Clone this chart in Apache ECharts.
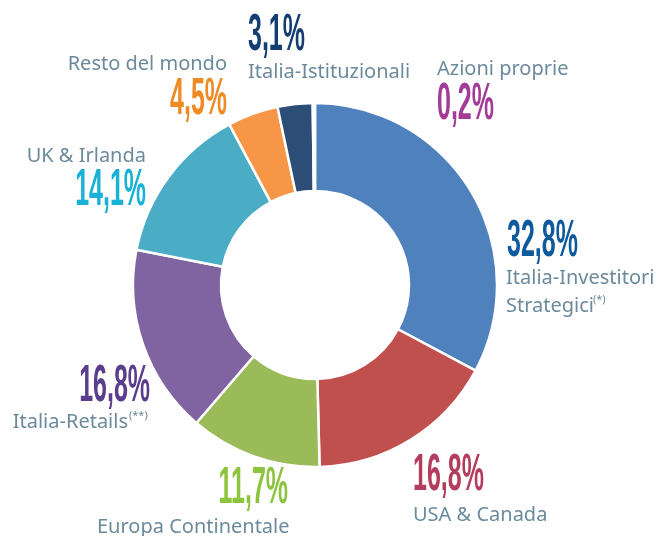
<!DOCTYPE html>
<html>
<head>
<meta charset="utf-8">
<script src="https://cdn.jsdelivr.net/npm/echarts@6/dist/echarts.min.js"></script>
<style>
  html, body { margin: 0; padding: 0; background: #fff; }
  #chart { width: 661px; height: 536px; }
</style>
</head>
<body>
<div id="chart"></div>
<script>
// slices, clockwise from 12 o'clock
const names = ['Italia-Investitori Strategici', 'USA & Canada', 'Europa Continentale', 'Italia-Retails',
  'UK & Irlanda', 'Resto del mondo', 'Italia-Istituzionali', 'Azioni proprie']
const nameLines = [['Italia-Investitori', 'Strategici'], ['USA & Canada'], ['Europa Continentale'], ['Italia-Retails'],
  ['UK & Irlanda'], ['Resto del mondo'], ['Italia-Istituzionali'], ['Azioni proprie']]
const notes = ['(*)', '', '', '(**)', '', '', '', '']
const values = [32.8, 16.8, 11.7, 16.8, 14.1, 4.5, 3.1, 0.2]

const sliceColors = ['#4f81bd', '#c0504d', '#9bbb59', '#8064a2', '#4bacc6', '#f79646', '#2c4d75', '#a0449c']
const pctColors = ['#0f5a9c', '#b43c5e', '#8cc43e', '#5a3d8c', '#19b2d6', '#f08a24', '#143e73', '#a33b97']

// label layout: percent anchor x, percent centre y, align, name anchor x, first name line y
const pctPos = [[507, 242, 'left'], [413, 476, 'left'], [288, 489, 'right'], [150, 387, 'right'],
  [146, 191, 'right'], [227, 100, 'right'], [248, 36, 'left'], [437, 105, 'left']]
const namePos = [[506, 278], [413, 515], [97, 527], [128, 422], [146, 156], [227, 64], [248, 72], [437, 69]]
const notePos = [[593, 300], null, null, [129, 416]]

const nameFont = '20px "Noto Sans", sans-serif'
const nameColor = '#6b8a9b'
const pctFont = 'bold 51px "Liberation Sans", Arial, sans-serif'

const fmt = v => v.toFixed(1).replace('.', ',') + '%'

const graphics = []
values.forEach((v, i) => {
  const [px, py, align] = pctPos[i]
  graphics.push({
    type: 'text', x: px, y: py, scaleX: 0.49,
    style: { text: fmt(v), font: pctFont, fill: pctColors[i], textAlign: align, textVerticalAlign: 'middle' }
  })
  const [nx, ny] = namePos[i]
  const nameAlign = (i === 3 || i === 4 || i === 5) ? 'right' : 'left'
  nameLines[i].forEach((line, k) => {
    graphics.push({
      type: 'text', x: nx, y: ny + k * 28,
      style: { text: line, font: nameFont, fill: nameColor, textAlign: nameAlign, textVerticalAlign: 'middle' }
    })
  })
  if (notes[i]) {
    graphics.push({
      type: 'text', x: notePos[i][0], y: notePos[i][1],
      style: { text: notes[i], font: '11px "Noto Sans", sans-serif', fill: nameColor, textAlign: 'left', textVerticalAlign: 'middle' }
    })
  }
})

const myChart = echarts.init(document.getElementById('chart'))
myChart.setOption({
  animation: false,
  color: sliceColors,
  graphic: graphics,
  series: [
    {
      type: 'pie',
      center: [315, 285],
      radius: [94, 182],
      startAngle: 90,
      clockwise: true,
      label: { show: false },
      labelLine: { show: false },
      emphasis: { disabled: true },
      itemStyle: { borderColor: '#fff', borderWidth: 2.5 },
      data: names.map((n, i) => ({ name: n, value: values[i] }))
    }
  ]
})
</script>
</body>
</html>
